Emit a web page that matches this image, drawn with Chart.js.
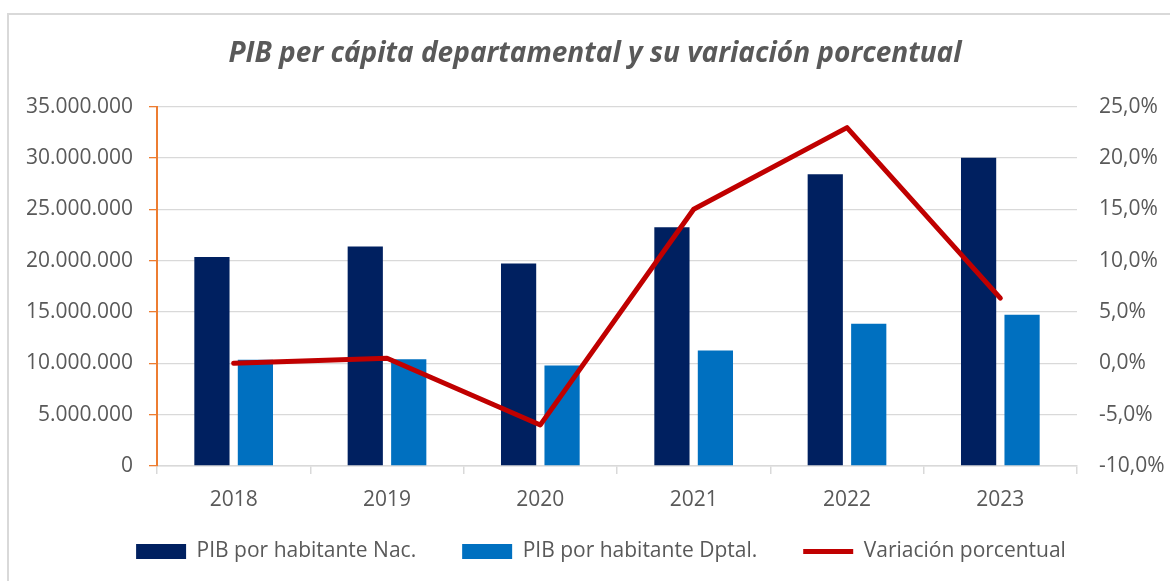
<!DOCTYPE html>
<html lang="es">

<head>
  <meta charset="UTF-8">
  <title>PIB per cápita departamental</title>
  <script src="https://cdn.jsdelivr.net/npm/chart.js"></script>
  <style>
    body { margin: 0; overflow: hidden; background: #fff; }
    #wrap {
      position: absolute; left: 7px; top: 13px;
      width: 1176px; height: 580px;
      border: 2px solid #d9d9d9; box-sizing: border-box;
    }
    #box { position: relative; width: 1172px; height: 576px; }
  </style>
</head>

<body>
  <div id="wrap"><div id="box"><canvas id="pibChart"></canvas></div></div>

  <script>
    // datos
    const years = ['2018', '2019', '2020', '2021', '2022', '2023'];
    const pibNacional = [20360000, 21370000, 19710000, 23260000, 28400000, 30020000];
    const pibDepartamental = [10350000, 10400000, 9790000, 11250000, 13860000, 14740000];
    const variacion = [0.0, 0.5, -6.0, 15.0, 22.95, 6.35];

    const textColor = '#595959';
    const font = 'Open Sans';

    // sube la leyenda para que no se coma el espacio de las etiquetas del eje x
    const legendShift = {
      id: 'legendShift',
      afterLayout(chart) {
        const lg = chart.legend;
        lg.top -= 19;
        lg.bottom -= 19;
        lg.left += 6;
        lg.right += 6;
      }
    };

    window.onload = function () {
      const ctx = document.getElementById('pibChart').getContext('2d');

      new Chart(ctx, {
        type: 'bar',
        data: {
          labels: years,
          datasets: [
            {
              label: 'PIB por habitante Nac.',
              data: pibNacional,
              backgroundColor: '#002060',
              yAxisID: 'y',
              order: 1,
              categoryPercentage: 0.567,
              barPercentage: 0.81
            },
            {
              label: 'PIB por habitante Dptal.',
              data: pibDepartamental,
              backgroundColor: '#0070C0',
              yAxisID: 'y',
              order: 1,
              categoryPercentage: 0.567,
              barPercentage: 0.81
            },
            {
              type: 'line',
              label: 'Variación porcentual',
              data: variacion,
              borderColor: '#C00000',
              backgroundColor: '#C00000',
              borderWidth: 5,
              borderCapStyle: 'round',
              borderJoinStyle: 'round',
              pointRadius: 0,
              tension: 0,
              yAxisID: 'y1',
              order: 0
            }
          ]
        },
        plugins: [legendShift],
        options: {
          responsive: true,
          maintainAspectRatio: false,
          animation: false,
          layout: { padding: { top: 0, left: 0, right: 0, bottom: 0 } },
          plugins: {
            tooltip: { enabled: false },
            title: {
              display: true,
              text: 'PIB per cápita departamental y su variación porcentual',
              color: textColor,
              font: { family: font, size: 28, weight: 'bold', style: 'italic' },
              padding: { top: 22, bottom: 36 }
            },
            legend: {
              position: 'bottom',
              labels: {
                color: textColor,
                font: { family: font, size: 21 },
                usePointStyle: true,
                pointStyleWidth: 50,
                boxHeight: 15,
                padding: 46,
                generateLabels: function (chart) {
                  const items = Chart.defaults.plugins.legend.labels.generateLabels(chart);
                  items.forEach(function (it) {
                    const ds = chart.data.datasets[it.datasetIndex];
                    it.pointStyle = ds.type === 'line' ? 'line' : 'rect';
                    if (ds.type !== 'line') it.lineWidth = 0;
                  });
                  return items.sort(function (a, b) { return a.datasetIndex - b.datasetIndex; });
                }
              }
            }
          },
          scales: {
            x: {
              grid: {
                drawOnChartArea: false,
                color: '#d9d9d9',
                lineWidth: 1.5,
                tickLength: 8
              },
              border: { color: '#d9d9d9', width: 1.5 },
              ticks: {
                color: textColor,
                font: { family: font, size: 21 },
                padding: 13
              },
              afterFit: function (scale) { scale.height = 48; }
            },
            y: {
              position: 'left',
              min: 0,
              max: 35000000,
              ticks: {
                stepSize: 5000000,
                color: textColor,
                font: { family: font, size: 21 },
                padding: 16,
                callback: function (v) {
                  return String(v).replace(/\B(?=(\d{3})+(?!\d))/g, '.');
                }
              },
              grid: {
                color: '#d9d9d9',
                lineWidth: 1.3,
                tickColor: '#ED7D31',
                tickLength: 8
              },
              border: { color: '#ED7D31', width: 2 },
              afterFit: function (scale) { scale.width = 148; }
            },
            y1: {
              position: 'right',
              min: -10,
              max: 25,
              ticks: {
                stepSize: 5,
                color: textColor,
                font: { family: font, size: 21 },
                padding: 14,
                callback: function (v) {
                  return v.toFixed(1).replace('.', ',') + '%';
                }
              },
              grid: { display: false },
              border: { display: false },
              afterFit: function (scale) { scale.width = 104; }
            }
          }
        }
      });
    };
  </script>
</body>

</html>
